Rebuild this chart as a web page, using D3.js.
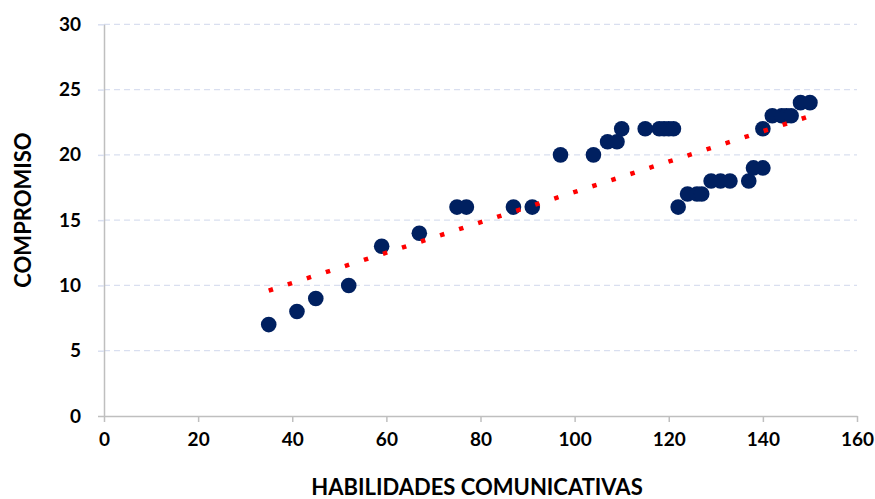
<!DOCTYPE html>
<html><head><meta charset="utf-8">
<script src="https://cdn.jsdelivr.net/npm/d3@7"></script>
<style>body{margin:0;background:#fff}</style>
</head><body>
<svg id="c" width="875" height="499"></svg>
<script>
const habilidades = [35,41,45,52,59,67,75,77,87,91,97,104,107,109,110,115,118,119,120,121,122,124,126,127,129,131,133,137,138,140,140,142,144,145,146,148,150];
const compromiso  = [7, 8, 9, 10,13,14,16,16,16,16,20,20, 21, 21, 22, 22, 22, 22, 22, 22, 16, 17, 17, 17, 18, 18, 18, 18, 19, 19, 22, 23, 23, 23, 23, 24, 24];
const xTicks = [0,20,40,60,80,100,120,140,160];
const yTicks = [0,5,10,15,20,25,30];
const xTitle = "HABILIDADES COMUNICATIVAS";
const yTitle = "COMPROMISO";

const svg = d3.select("#c");
const L=104,R=857,T=24.3,B=416;
const x = d3.scaleLinear().domain([0,160]).range([L,R]);
const y = d3.scaleLinear().domain([0,30]).range([B,T]);
const font = "Lato, 'Open Sans', sans-serif";

// gridlines
svg.append("g").selectAll("line").data(yTicks.filter(d=>d>0)).join("line")
  .attr("x1",L).attr("x2",R).attr("y1",d=>y(d)).attr("y2",d=>y(d))
  .attr("stroke","#d9dff0").attr("stroke-width",1.3).attr("stroke-dasharray","6,4");

// axes
const xa = svg.append("g").attr("transform",`translate(0,${B})`)
  .call(d3.axisBottom(x).tickValues(xTicks).tickSize(6).tickPadding(11).tickSizeOuter(0));
const ya = svg.append("g").attr("transform",`translate(${L},0)`)
  .call(d3.axisLeft(y).tickValues(yTicks).tickSize(6).tickPadding(17).tickSizeOuter(0));
[xa,ya].forEach(a=>{
  a.select(".domain").attr("stroke","#bfbfbf").attr("stroke-width",1.5);
  a.selectAll(".tick line").attr("stroke","#bfbfbf").attr("stroke-width",1.5);
  a.selectAll("text").attr("font-family",font).attr("font-weight","bold").attr("font-size",19).attr("fill","#000");
});
ya.selectAll(".tick").filter(d=>d>0).select("line").attr("stroke","#d9dff0");

// points
const pts = habilidades.map((h,i)=>({x:h,y:compromiso[i]}));
svg.append("g").selectAll("circle").data(pts).join("circle")
  .attr("cx",d=>x(d.x)).attr("cy",d=>y(d.y)).attr("r",7.8)
  .attr("fill","#002060");

// linear trendline (least squares from data)
const mx=d3.mean(pts,d=>d.x), my=d3.mean(pts,d=>d.y);
const slope=d3.sum(pts,d=>(d.x-mx)*(d.y-my))/d3.sum(pts,d=>(d.x-mx)**2);
const icpt=my-slope*mx;
const x0=d3.min(habilidades), x1=d3.max(habilidades);
svg.append("line")
  .attr("x1",x(x0)).attr("y1",y(icpt+slope*x0)).attr("x2",x(x1)).attr("y2",y(icpt+slope*x1))
  .attr("stroke","#ff0000").attr("stroke-width",4.5).attr("stroke-dasharray","4.5,15.5");

// titles
svg.append("text").attr("x",477).attr("y",495).attr("text-anchor","middle")
  .attr("font-family",font).attr("font-weight","bold").attr("font-size",22).text(xTitle);
svg.append("text").attr("transform","translate(31,210) rotate(-90)").attr("text-anchor","middle")
  .attr("font-family",font).attr("font-weight","bold").attr("font-size",22).text(yTitle);
</script>
</body></html>
